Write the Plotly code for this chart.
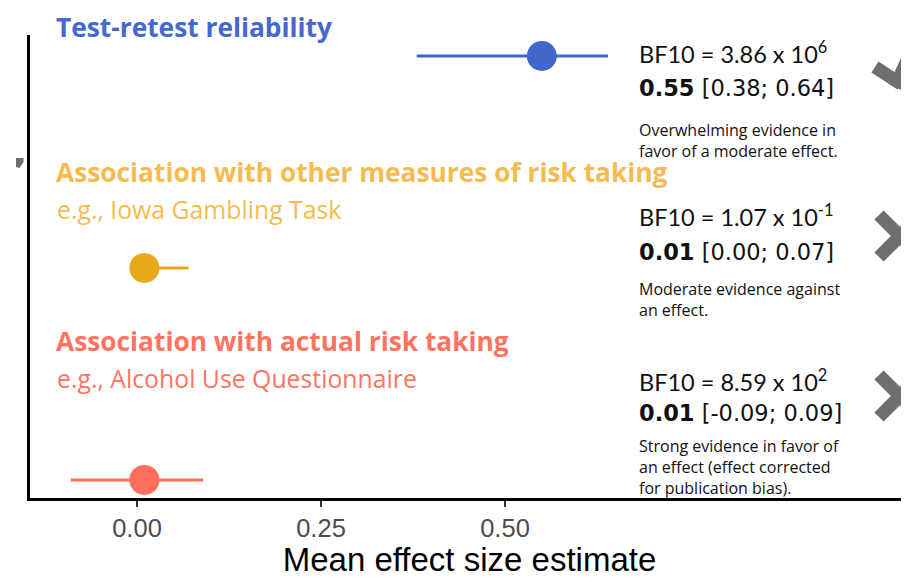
import plotly.graph_objects as go

# ---- data ----
rows = ["Test-retest reliability", "Association with other measures of risk taking", "Association with actual risk taking"]
subtitles = ["", "e.g., Iowa Gambling Task", "e.g., Alcohol Use Questionnaire"]
estimates = [0.55, 0.01, 0.01]
ci_low = [0.38, 0.00, -0.09]
ci_high = [0.64, 0.07, 0.09]
row_pos = [3, 2, 1]
bf_mant = ["3.86", "1.07", "8.59"]
bf_exp = ["6", "-1", "2"]
verdicts = [
    "Overwhelming evidence in<br>favor of a moderate effect.",
    "Moderate evidence against<br>an effect.",
    "Strong evidence in favor of<br>an effect (effect corrected<br>for publication bias).",
]
outcome = ["check", "cross", "cross"]
tick_vals = [0.0, 0.25, 0.50]
tick_text = ["0.00", "0.25", "0.50"]

mark_colors = ["#4067CC", "#E6A91A", "#FF6E5A"]
text_colors = ["#4468CF", "#F6BB4E", "#FF735F"]

# page has an 8px body margin: figure is sized/offset so the plot box lands
# at screen x 30..909, y 35..498
OFF = 8
W, H = 909 - OFF, 578 - OFF
SL, SR, ST, SB = 30, 909, 35, 498          # plot box in screen px
ML, MR, MT, MB = SL - OFF, 0, ST - OFF, H - (SB - OFF)
PW, PH = SR - SL, SB - ST

def px(x):
    return (x - SL) / PW

def py(y):
    return (SB - y) / PH

fig = go.Figure()
for i in range(3):
    fig.add_trace(go.Scatter(
        x=[ci_low[i], ci_high[i]], y=[row_pos[i], row_pos[i]], mode="lines",
        line=dict(color=mark_colors[i], width=3), showlegend=False, hoverinfo="skip"))
    fig.add_trace(go.Scatter(
        x=[estimates[i]], y=[row_pos[i]], mode="markers",
        marker=dict(color=mark_colors[i], size=30, line=dict(width=0)),
        showlegend=False))

TF = "Open Sans"
# titles
title_y = [27, 172, 341]
sub_y = [None, 209, 378]
for i in range(3):
    fig.add_annotation(x=px(54), y=py(title_y[i]), xref="paper", yref="paper",
                       xanchor="left", yanchor="middle", showarrow=False,
                       text="<b>" + rows[i] + "</b>",
                       font=dict(family=TF, size=26.3, color=text_colors[i]))
    if subtitles[i]:
        fig.add_annotation(x=px(55), y=py(sub_y[i]), xref="paper", yref="paper",
                           xanchor="left", yanchor="middle", showarrow=False,
                           text=subtitles[i],
                           font=dict(family=TF, size=24.8, color=text_colors[i]))

# right-side stats
bf_y = [52, 216, 380]
est_y = [88, 252, 413]
ver_y = [140, 300, 467]
for i in range(3):
    fig.add_annotation(x=px(637), y=py(bf_y[i]), xref="paper", yref="paper",
                       xanchor="left", yanchor="middle", showarrow=False,
                       text="BF10 = %s x 10<sup>%s</sup>" % (bf_mant[i], bf_exp[i]),
                       font=dict(family="Lato", size=23.5, color="#111111"))
    fig.add_annotation(x=px(637), y=py(est_y[i]), xref="paper", yref="paper",
                       xanchor="left", yanchor="middle", showarrow=False,
                       text="<b>%.2f</b> [%.2f; %.2f]" % (estimates[i], ci_low[i], ci_high[i]),
                       font=dict(family="DejaVu Sans", size=22.5, color="#111111"))
    fig.add_annotation(x=px(637), y=py(ver_y[i]), xref="paper", yref="paper",
                       xanchor="left", yanchor="middle", showarrow=False, align="left",
                       text=verdicts[i],
                       font=dict(family=TF, size=16, color="#111111"))

# check / cross marks (partially cut at the right edge)
gray = "#6E6E6E"
mark_cy = [None, 236, 396]
for i in range(3):
    if outcome[i] == "check":
        fig.add_shape(type="line", xref="paper", yref="paper",
                      x0=px(875), y0=py(67), x1=px(901), y1=py(84),
                      line=dict(color=gray, width=13))
        fig.add_shape(type="line", xref="paper", yref="paper",
                      x0=px(895), y0=py(87), x1=px(925), y1=py(20),
                      line=dict(color=gray, width=13))
    else:
        cy = mark_cy[i]
        fig.add_shape(type="line", xref="paper", yref="paper",
                      x0=px(879), y0=py(cy - 21), x1=px(921), y1=py(cy + 21),
                      line=dict(color=gray, width=13))
        fig.add_shape(type="line", xref="paper", yref="paper",
                      x0=px(879), y0=py(cy + 21), x1=px(921), y1=py(cy - 21),
                      line=dict(color=gray, width=13))

# cut-off punctuation at left edge
fig.add_shape(type="path", xref="paper", yref="paper",
              path="M %f,%f L %f,%f L %f,%f L %f,%f L %f,%f Z" % (
                  px(16), py(158), px(23.5), py(158), px(23.5), py(162),
                  px(19.5), py(168), px(16), py(167)),
              fillcolor=gray, line=dict(width=0))

fig.update_layout(
    width=W, height=H,
    margin=dict(l=ML, r=MR, t=MT, b=MB, autoexpand=False),
    paper_bgcolor="white", plot_bgcolor="white",
    xaxis=dict(range=[(SL - 137) / 736.0, (SR - 137) / 736.0],
               tickvals=tick_vals, ticktext=tick_text, automargin=False,
               ticks="outside", ticklen=6, tickwidth=2, tickcolor="#333333",
               tickfont=dict(family="Liberation Sans", size=25.5, color="#4D4D4D"),
               showline=True, linecolor="black", linewidth=2.5,
               showgrid=False, zeroline=False,
               title=dict(text="Mean effect size estimate", standoff=16,
                          font=dict(family="Liberation Sans", size=33, color="black"))),
    yaxis=dict(range=[0.915, 3.099], showticklabels=False, ticks="", automargin=False,
               showline=True, linecolor="black", linewidth=2.5,
               showgrid=False, zeroline=False),
)

fig.write_html("out.html")
